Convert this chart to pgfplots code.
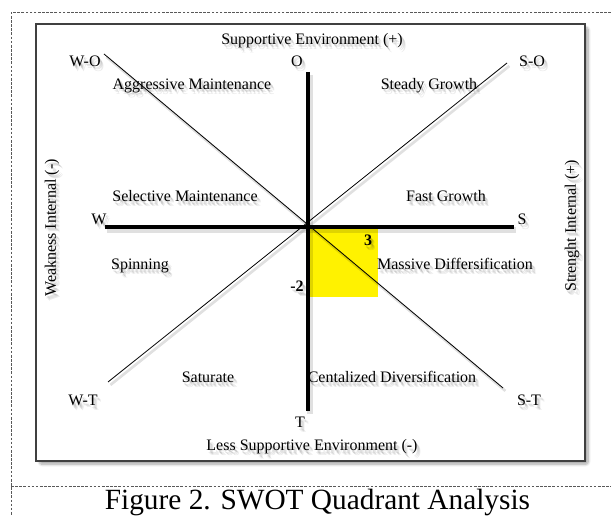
\documentclass[border=0pt]{standalone}
\usepackage{pgfplots}
\pgfplotsset{compat=1.18}
\usepackage{fontspec}
\setmainfont{Liberation Serif}
\usetikzlibrary{shadows.blur}

% one reference pixel = 0.75pt; labels carry a soft drop shadow as in the reference
\newcommand{\lab}[4][]{%
  \node[anchor=base,inner sep=0pt,opacity=0.10,xshift=1.2pt,yshift=-1.8pt,#1] at (axis cs:#2,#3) {#4};
  \node[anchor=base,inner sep=0pt,opacity=0.10,xshift=2.0pt,yshift=-2.6pt,#1] at (axis cs:#2,#3) {#4};
  \node[anchor=base,inner sep=0pt,opacity=0.08,xshift=2.8pt,yshift=-3.4pt,#1] at (axis cs:#2,#3) {#4};
  \node[anchor=base,inner sep=0pt,#1] at (axis cs:#2,#3) {#4};
}

\begin{document}
\begin{tikzpicture}
\begin{axis}[
  hide axis, scale only axis,
  width=458.25pt, height=387pt,
  xmin=0, xmax=611, ymin=0, ymax=516,
  y dir=reverse, clip=false,
  font=\fontsize{12}{14}\selectfont,
]
% outer dashed frame
\addplot[gray!70!black, line width=0.6pt, dash pattern=on 2pt off 1.1pt] coordinates {(611,12.5) (11,12.5) (11,516)};
\addplot[gray!70!black, line width=0.6pt, dash pattern=on 2pt off 1.1pt] coordinates {(11,486) (611,486)};
% inner frame with shadow
\draw[draw=black!75, line width=1.1pt, fill=white,
      blur shadow={shadow xshift=2.5pt, shadow yshift=-2.5pt, shadow blur steps=10, shadow blur extra rounding=2pt, shadow opacity=35}]
  (axis cs:36,24) rectangle (axis cs:585,461);

% yellow position box (S = 3, O = -2)
\addplot[fill=yellow, draw=none] coordinates {(307.5,227) (378,227) (378,297) (307.5,297)} -- cycle;

% shadows of lines
\addplot[black, opacity=0.12, line width=2pt, xshift=1.8pt, yshift=-2.2pt] coordinates {(104,54) (503,388)};
\addplot[black, opacity=0.12, line width=2pt, xshift=1.8pt, yshift=-2.2pt] coordinates {(507,63) (108,382)};
\addplot[black, opacity=0.12, line width=4pt, xshift=1.8pt, yshift=-2.2pt] coordinates {(105,227) (514,227)};
\addplot[black, opacity=0.12, line width=4pt, xshift=1.8pt, yshift=-2.2pt] coordinates {(307.5,72) (307.5,411)};

% diagonals
\addplot[black, line width=0.6pt] coordinates {(104,54) (503,388)};
\addplot[black, line width=0.6pt] coordinates {(507,63) (108,382)};
% main axes W-S and O-T
\addplot[black, line width=3pt] coordinates {(105,227) (514,227)};
\addplot[black, line width=3pt] coordinates {(307.5,72) (307.5,411)};

% labels
\lab{312}{44.5}{Supportive Environment (+)}
\lab{297}{66.5}{O}
\lab{85}{66.5}{W-O}
\lab{532}{66.5}{S-O}
\lab{192}{89.5}{Aggressive Maintenance}
\lab{429}{89.5}{Steady Growth}
\lab[anchor=center,rotate=90]{52}{228}{Weakness Internal (-)}
\lab[anchor=center,rotate=90]{572}{226}{Strenght Internal (+)}
\lab{185}{201.7}{Selective Maintenance}
\lab{446}{201.7}{Fast Growth}
\lab{99}{224.5}{W}
\lab{522}{224.5}{S}
\lab{140}{270}{Spinning}
\lab{455}{270}{Massive Differsification}
\lab[font=\fontsize{12}{14}\selectfont\bfseries]{368}{246}{3}
\lab[font=\fontsize{12}{14}\selectfont\bfseries]{297}{291.7}{-2}
\lab{208}{382.7}{Saturate}
\lab{392}{382.7}{Centalized Diversification}
\lab{83}{405.7}{W-T}
\lab{529}{405.7}{S-T}
\lab{300}{428}{T}
\lab{312}{451}{Less Supportive Environment (-)}

\node[anchor=base, inner sep=0pt, font=\fontsize{22}{26}\selectfont] at (axis cs:317.5,509.5) {Figure 2. SWOT Quadrant Analysis};
\end{axis}
\pgfresetboundingbox
\path (current axis.south west) rectangle (current axis.north east);
\end{tikzpicture}
\end{document}
